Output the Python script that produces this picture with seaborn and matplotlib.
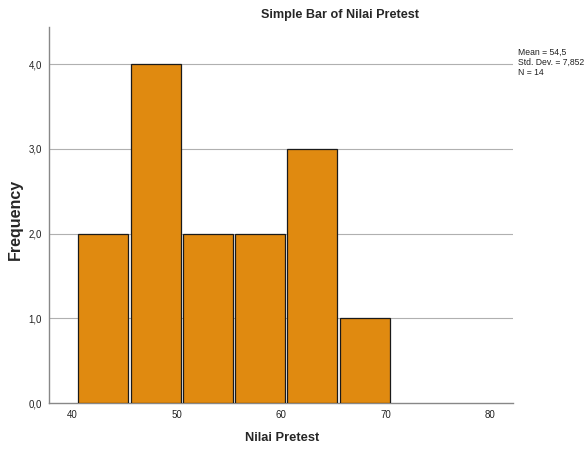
import matplotlib
matplotlib.use("Agg")
import matplotlib.pyplot as plt
import seaborn as sns
import numpy as np

# Histogram data (bin width 5)
bin_edges = [40.5, 45.5, 50.5, 55.5, 60.5, 65.5, 70.5]
bin_centers = [43, 48, 53, 58, 63, 68]
frequencies = [2, 4, 2, 2, 3, 1]

x_ticks = [40, 50, 60, 70, 80]
y_ticks = [0, 1, 2, 3, 4]
y_tick_labels = ["0,0", "1,0", "2,0", "3,0", "4,0"]
stats_text = "Mean = 54,5\nStd. Dev. = 7,852\nN = 14"

sns.set_style("white")
plt.rcParams['font.family'] = ['Liberation Sans', 'DejaVu Sans']

fig = plt.figure(figsize=(5.87, 4.54), dpi=100)
ax = fig.add_axes([0.0835, 0.1123, 0.7905, 0.8282])

sns.histplot(x=bin_centers, weights=frequencies, bins=bin_edges, shrink=0.96,
             color="#E08A10", edgecolor="#1a1a1a", linewidth=0.9, alpha=1,
             ax=ax, zorder=3)

ax.set_xlim(37.8, 82.2)
ax.set_ylim(0, 4.44)
ax.set_xticks(x_ticks)
ax.set_xticklabels([str(t) for t in x_ticks])
ax.set_yticks(y_ticks)
ax.set_yticklabels(y_tick_labels)
ax.tick_params(axis='both', length=0, labelsize=7, colors="#222222", pad=5)

for y in y_ticks[1:]:
    ax.axhline(y, color="#b0b0b0", linewidth=0.8, zorder=1)

for side in ['top', 'right']:
    ax.spines[side].set_visible(False)
for side in ['left', 'bottom']:
    ax.spines[side].set_color("#888888")
    ax.spines[side].set_linewidth(1.0)

ax.set_xlabel("Nilai Pretest", fontsize=9.3, fontweight='bold')
ax.set_ylabel("Frequency", fontsize=11.5, fontweight='bold')
ax.xaxis.set_label_coords((282 - 49) / 464, -(438 - 403) / 376)
ax.yaxis.set_label_coords(-(49 - 15) / 464, (403 - 219) / 376)
ax.xaxis.label.set_va('center')
ax.yaxis.label.set_va('center')

fig.text(340 / 587, 1 - 15 / 454, "Simple Bar of Nilai Pretest", ha='center', va='center',
         fontsize=9.1, fontweight='bold')
fig.text(518 / 587, 1 - 48 / 454, stats_text, ha='left', va='top', fontsize=6.2,
         linespacing=1.15, color="#222222")

fig.savefig("out.png", dpi=100)
